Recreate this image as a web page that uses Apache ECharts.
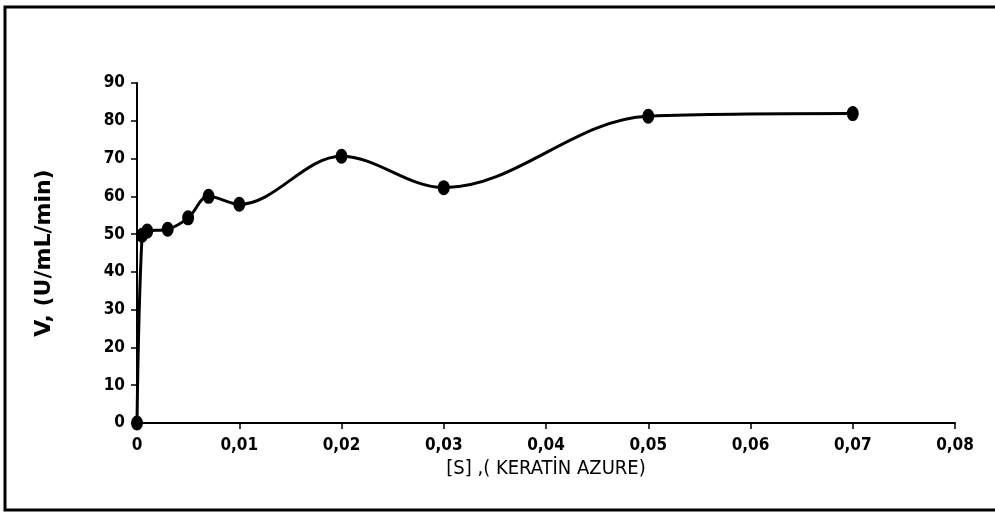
<!DOCTYPE html>
<html>
<head>
<meta charset="utf-8">
<script src="https://cdn.jsdelivr.net/npm/echarts@6/dist/echarts.min.js"></script>
<style>
  html, body { margin: 0; padding: 0; background: #fff; }
  #main { width: 995px; height: 515px; }
</style>
</head>
<body>
<div id="main"></div>
<script>
  // substrate concentration and velocity
  var substrate = [0, 0.0005, 0.001, 0.003, 0.005, 0.007, 0.01, 0.02, 0.03, 0.05, 0.07];
  var velocity  = [0, 49.7, 50.8, 51.3, 54.3, 60, 57.9, 70.6, 62.3, 81.2, 81.9];

  var xTicks = { min: 0, max: 0.08, step: 0.01 };
  var yTicks = { min: 0, max: 90, step: 10 };

  var pts = [];
  for (var i = 0; i < substrate.length; i++) {
    pts.push([substrate[i], velocity[i]]);
  }

  var tickFont = '"Liberation Sans Narrow", "DejaVu Sans Condensed", "Roboto Condensed", "Liberation Sans", sans-serif';
  var chart = echarts.init(document.getElementById('main'));

  var option = {
    backgroundColor: '#fff',
    animation: false,
    graphic: [{
      type: 'rect',
      shape: { x: 5, y: 7, width: 1010, height: 503 },
      style: { fill: 'none', stroke: '#000', lineWidth: 3 }
    }],
    grid: { left: 137, right: 40, top: 83, bottom: 92 },
    xAxis: {
      type: 'value',
      min: xTicks.min, max: xTicks.max, interval: xTicks.step,
      splitLine: { show: false },
      axisLine: { lineStyle: { color: '#000', width: 2 } },
      axisTick: { show: true, inside: false, length: 6, lineStyle: { color: '#000', width: 1.5 } },
      axisLabel: {
        color: '#000', fontFamily: tickFont, fontWeight: 'bold', fontSize: 17, margin: 14,
        formatter: function (v) { return String(+v.toFixed(2)).replace('.', ','); }
      },
      name: '[S] ,( KERATİN AZURE)',
      nameLocation: 'middle',
      nameGap: 36,
      nameTextStyle: { color: '#000', fontFamily: tickFont, fontSize: 20 }
    },
    yAxis: {
      type: 'value',
      min: yTicks.min, max: yTicks.max, interval: yTicks.step,
      splitLine: { show: false },
      axisLine: { show: true, lineStyle: { color: '#000', width: 2 } },
      axisTick: { show: true, inside: false, length: 6, lineStyle: { color: '#000', width: 1.5 } },
      axisLabel: { color: '#000', fontFamily: tickFont, fontWeight: 'bold', fontSize: 17, margin: 12 },
      name: 'V, (U/mL/min)',
      nameLocation: 'middle',
      nameGap: 82,
      nameTextStyle: { color: '#000', fontFamily: 'DejaVu Sans', fontWeight: 'bold', fontSize: 22 }
    },
    series: [{
      type: 'line',
      data: pts,
      smooth: 0.35,
      symbol: 'circle',
      symbolSize: [12, 15],
      itemStyle: { color: '#000' },
      lineStyle: { color: '#000', width: 3 },
      z: 3
    }]
  };

  chart.setOption(option);
</script>
</body>
</html>
